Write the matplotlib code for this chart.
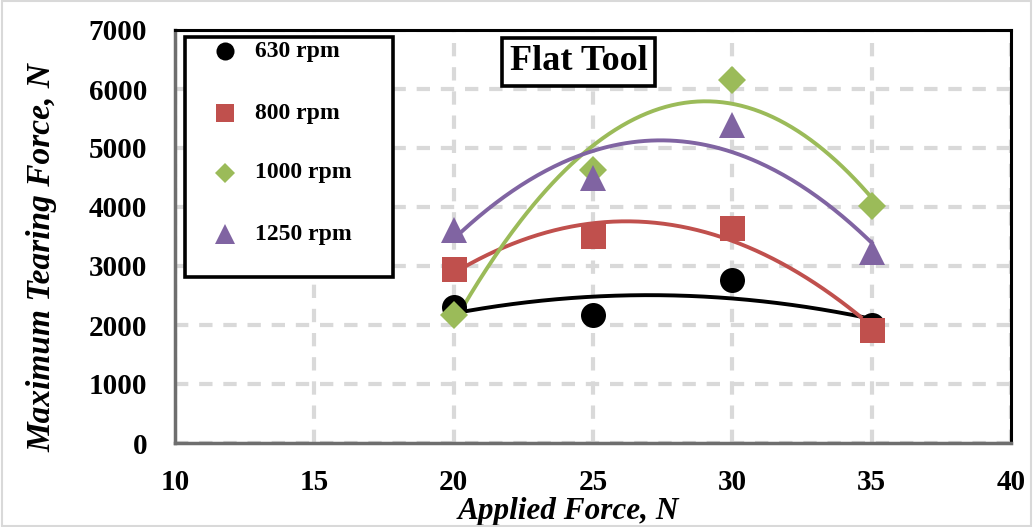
import numpy as np
import matplotlib
matplotlib.use("Agg")
import matplotlib.pyplot as plt
from matplotlib.patches import Rectangle

plt.rcParams['font.family'] = ['Liberation Serif', 'DejaVu Serif']

# Data
applied_force = [20, 25, 30, 35]
labels = ['630 rpm', '800 rpm', '1000 rpm', '1250 rpm']
tear_630 = [2300, 2170, 2760, 2000]
tear_800 = [2950, 3510, 3640, 1910]
tear_1000 = [2170, 4630, 6160, 4020]
tear_1250 = [3610, 4490, 5390, 3240]

series = [tear_630, tear_800, tear_1000, tear_1250]
colors = ['black', '#C0504D', '#9BBB59', '#8064A2']
markers = ['o', 's', 'D', '^']
msizes = [18, 18, 14, 19]
leg_sizes = [13, 13, 10, 14]

fig = plt.figure(figsize=(10.33, 5.27), dpi=100)
ax = fig.add_axes([175 / 1033, 1 - 443 / 527, (1011 - 175) / 1033, (443 - 30) / 527])

# outer chart frame
fig.patches.append(Rectangle((0.002, 0.002), 0.996, 0.996, transform=fig.transFigure,
                             fill=False, edgecolor='#D9D9D9', lw=1.5))

x = np.array(applied_force)
xx = np.linspace(20, 35, 200)
for y, c, m, s in zip(series, colors, markers, msizes):
    # 2nd order polynomial trendline
    coef = np.polyfit(x, y, 2)
    ax.plot(xx, np.polyval(coef, xx), color=c, lw=2.8, zorder=3)
    ax.plot(x, y, linestyle='none', marker=m, color=c, markersize=s,
            markeredgewidth=0, zorder=4)

ax.set_xlim(10, 40)
ax.set_ylim(0, 7000)
ax.set_xticks(range(10, 41, 5))
ax.set_yticks(range(0, 7001, 1000))
ax.grid(True, color='#D9D9D9', lw=3, linestyle=(0, (3.2, 2.6)), zorder=0)
ax.set_axisbelow(True)
ax.tick_params(length=0, labelsize=21)
ax.tick_params(axis='y', pad=20)
ax.tick_params(axis='x', pad=19)
for t in ax.get_xticklabels() + ax.get_yticklabels():
    t.set_fontweight('bold')
for side in ['top', 'right']:
    ax.spines[side].set_linewidth(2.2)
    ax.spines[side].set_color('black')
for side in ['left', 'bottom']:
    ax.spines[side].set_linewidth(2.5)
    ax.spines[side].set_color('#6E6E6E')

ax.set_xlabel('Applied Force, N', fontsize=22.5, fontweight='bold', style='italic')
ax.set_ylabel('Maximum Tearing Force, N', fontsize=24, fontweight='bold', style='italic')
ax.xaxis.label.set_verticalalignment('baseline')
ax.xaxis.set_label_coords(0.470, -0.183)
ax.yaxis.set_label_coords(-0.141, 0.448)

# legend box (drawn by hand to copy the Excel layout)
ax.add_patch(Rectangle((0.012, 0.402), 0.249, 0.581, transform=ax.transAxes,
                       fill=True, fc='white', ec='black', lw=2.6, zorder=6))
row_y = [0.948, 0.799, 0.654, 0.506]
for ry, c, m, s, lab in zip(row_y, colors, markers, leg_sizes, labels):
    ax.plot([0.0598], [ry], transform=ax.transAxes, linestyle='none', marker=m,
            color=c, markersize=s, markeredgewidth=0, zorder=7, clip_on=False)
    ax.text(0.0957, ry, lab, transform=ax.transAxes, ha='left', va='center',
            fontsize=17, fontweight='bold', zorder=7)

ax.text(578.5 / 1033, 1 - 62 / 527, 'Flat Tool', transform=fig.transFigure,
        ha='center', va='center', fontsize=26, fontweight='bold',
        bbox=dict(boxstyle='square,pad=0.2', fc='white', ec='black', lw=2.6), zorder=8)

fig.savefig('out.png', dpi=100)
